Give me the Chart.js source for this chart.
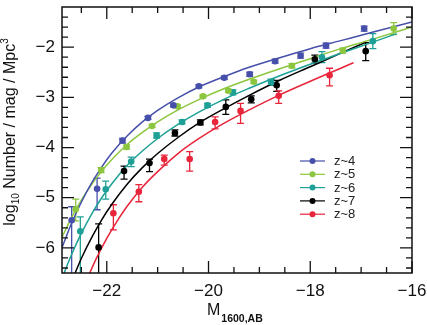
<!DOCTYPE html>
<html lang="en">
<head>
    <meta charset="UTF-8">
    <title>UV luminosity functions</title>
    <script src="https://cdn.jsdelivr.net/npm/chart.js"></script>
    <style>
        body { margin: 0; background: #fff; }
        #wrap { width: 427px; height: 325px; }
    </style>
</head>
<body>
    <div id="wrap"><canvas id="lf" width="427" height="325"></canvas></div>

    <script>
        // axis ranges and ticks
        const xMin = -22.88, xMax = -16;
        const yMin = -6.5, yMax = -1.2;
        const xMajor = [-22, -20, -18, -16];
        const xMinor = [-22.5, -21.5, -21, -20.5, -19.5, -19, -18.5, -17.5, -17, -16.5];
        const yMajor = [-6, -5, -4, -3, -2];
        const yMinor = [-6.4, -6.2, -5.8, -5.6, -5.4, -5.2, -4.8, -4.6, -4.4, -4.2,
                        -3.8, -3.6, -3.4, -3.2, -2.8, -2.6, -2.4, -2.2, -1.8, -1.6, -1.4];

        const labels = ['z~4', 'z~5', 'z~6', 'z~7', 'z~8'];
        const colors = ['#4650aa', '#8cc63f', '#1ea096', '#000000', '#e8253a'];

        // binned points (magnitude, log10 density, error up / down)
        const z4M  = [-22.69, -22.19, -21.69, -21.19, -20.69, -20.19, -19.69, -19.19, -18.69, -18.19, -17.69, -16.94];
        const z4V  = [-5.45, -4.82, -3.86, -3.41, -3.16, -2.78, -2.61, -2.54, -2.28, -2.17, -1.97, -1.63];
        const z4Up = [0.27, 0.21, 0.04, 0.03, 0.03, 0.03, 0.03, 0.04, 0.04, 0.05, 0.05, 0.05];
        const z4Dn = [1.2, 0.42, 0.05, 0.03, 0.03, 0.03, 0.03, 0.04, 0.04, 0.05, 0.05, 0.05];

        const z5M  = [-22.61, -22.11, -21.61, -21.11, -20.61, -20.11, -19.61, -19.11, -18.36, -17.36, -16.36];
        const z5V  = [-5.23, -4.45, -3.99, -3.57, -3.18, -2.98, -2.87, -2.69, -2.37, -2.07, -1.63];
        const z5Up = [0.2, 0.05, 0.04, 0.03, 0.03, 0.03, 0.03, 0.03, 0.04, 0.05, 0.12];
        const z5Dn = [0.23, 0.05, 0.04, 0.03, 0.03, 0.03, 0.03, 0.03, 0.04, 0.05, 0.12];

        const z6M  = [-22.52, -22.02, -21.52, -21.02, -20.52, -20.02, -19.52, -18.77, -17.77, -16.77];
        const z6V  = [-5.67, -4.83, -4.28, -3.76, -3.49, -3.16, -2.90, -2.70, -2.20, -1.88];
        const z6Up = [0.29, 0.16, 0.09, 0.05, 0.04, 0.04, 0.05, 0.06, 0.11, 0.15];
        const z6Dn = [1.0, 0.2, 0.1, 0.05, 0.04, 0.04, 0.05, 0.06, 0.11, 0.15];

        const z7M  = [-22.16, -21.66, -21.16, -20.66, -20.16, -19.66, -19.16, -18.66, -17.91, -16.91];
        const z7V  = [-5.99, -4.47, -4.31, -3.71, -3.50, -3.19, -3.04, -2.76, -2.24, -2.08];
        const z7Up = [0.47, 0.1, 0.08, 0.06, 0.05, 0.14, 0.07, 0.1, 0.08, 0.17];
        const z7Dn = [1.0, 0.16, 0.17, 0.06, 0.05, 0.15, 0.07, 0.12, 0.08, 0.19];

        const z8M  = [-21.87, -21.37, -20.87, -20.37, -19.87, -19.37, -18.62, -17.62];
        const z8V  = [-5.31, -4.88, -4.23, -4.23, -3.49, -3.27, -2.97, -2.56];
        const z8Up = [0.17, 0.14, 0.08, 0.15, 0.1, 0.15, 0.1, 0.14];
        const z8Dn = [0.33, 0.2, 0.12, 0.24, 0.14, 0.25, 0.15, 0.21];

        // fitted curves
        const fitM  = [-22.9, -22.7, -22.5, -22.3, -22.1, -21.9, -21.6, -21.3, -21.0, -20.6, -20.2, -19.7, -19.2, -18.6, -18.0, -17.4, -16.8, -16.0];
        const fit4  = [-6.05, -5.53, -5.09, -4.71, -4.39, -4.11, -3.77, -3.49, -3.26, -3.01, -2.80, -2.59, -2.40, -2.21, -2.03, -1.87, -1.71, -1.50];
        const fit5  = [-5.83, -5.41, -5.05, -4.74, -4.47, -4.24, -3.94, -3.70, -3.49, -3.25, -3.05, -2.83, -2.64, -2.43, -2.23, -2.03, -1.85, -1.60];
        const fit6M = [-22.9, -22.7, -22.5, -22.3, -22.1, -21.9, -21.6, -21.3, -21.0, -20.6, -20.2, -19.7, -19.2, -18.6, -18.0, -17.4, -16.8, -16.3];
        const fit6  = [-6.66, -6.15, -5.71, -5.33, -5.00, -4.72, -4.36, -4.07, -3.82, -3.54, -3.30, -3.04, -2.82, -2.57, -2.34, -2.12, -1.91, -1.73];
        const fit7M = [-22.7, -22.5, -22.3, -22.1, -21.9, -21.6, -21.3, -21.0, -20.6, -20.2, -19.7, -19.2, -18.6, -18.0, -17.4, -16.9];
        const fit7  = [-6.69, -6.21, -5.80, -5.44, -5.13, -4.73, -4.40, -4.12, -3.80, -3.52, -3.23, -2.96, -2.66, -2.39, -2.12, -1.90];
        const fit8M = [-22.4, -22.2, -22.0, -21.8, -21.6, -21.3, -21.0, -20.6, -20.2, -19.7, -19.2, -18.6, -18.0, -17.4, -17.15];
        const fit8  = [-6.65, -6.20, -5.81, -5.47, -5.17, -4.79, -4.48, -4.12, -3.83, -3.52, -3.25, -2.95, -2.68, -2.42, -2.31];

        const series = [
            { m: z4M, v: z4V, up: z4Up, dn: z4Dn, fm: fitM,  fv: fit4 },
            { m: z5M, v: z5V, up: z5Up, dn: z5Dn, fm: fitM,  fv: fit5 },
            { m: z6M, v: z6V, up: z6Up, dn: z6Dn, fm: fit6M, fv: fit6 },
            { m: z7M, v: z7V, up: z7Up, dn: z7Dn, fm: fit7M, fv: fit7 },
            { m: z8M, v: z8V, up: z8Up, dn: z8Dn, fm: fit8M, fv: fit8 }
        ];

        const pts = (xs, ys) => xs.map((x, i) => ({ x: x, y: ys[i] }));

        const datasets = [];
        series.forEach((s, i) => {
            datasets.push({
                label: labels[i],
                data: pts(s.m, s.v),
                showLine: false,
                pointRadius: 3.3,
                pointBackgroundColor: colors[i],
                pointBorderColor: colors[i],
                pointBorderWidth: 0,
                order: 0
            });
            datasets.push({
                label: labels[i] + ' fit',
                data: pts(s.fm, s.fv),
                showLine: true,
                borderColor: colors[i],
                borderWidth: 1.5,
                pointRadius: 0,
                cubicInterpolationMode: 'monotone',
                order: 1
            });
        });

        const tickFont = { family: 'Liberation Sans', size: 17 };

        const decor = {
            id: 'decor',
            beforeDraw(chart) {
                const ctx = chart.ctx;
                ctx.save();
                ctx.fillStyle = '#fff';
                ctx.fillRect(0, 0, chart.width, chart.height);
                ctx.restore();
            },
            beforeDatasetsDraw(chart) {
                // error bars
                const { ctx, chartArea: a, scales: { x, y } } = chart;
                ctx.save();
                ctx.beginPath();
                ctx.rect(a.left, a.top, a.right - a.left, a.bottom - a.top);
                ctx.clip();
                ctx.lineWidth = 1.3;
                series.forEach((s, i) => {
                    ctx.strokeStyle = colors[i];
                    s.m.forEach((m, j) => {
                        const px = x.getPixelForValue(m);
                        const hi = y.getPixelForValue(s.v[j] + s.up[j]);
                        const lo = y.getPixelForValue(s.v[j] - s.dn[j]);
                        ctx.beginPath();
                        ctx.moveTo(px, hi); ctx.lineTo(px, lo);
                        ctx.moveTo(px - 3.5, hi); ctx.lineTo(px + 3.5, hi);
                        ctx.moveTo(px - 3.5, lo); ctx.lineTo(px + 3.5, lo);
                        ctx.stroke();
                    });
                });
                ctx.restore();
            },
            afterDraw(chart) {
                const { ctx, chartArea: a, scales: { x, y } } = chart;
                ctx.save();
                ctx.strokeStyle = '#111';
                ctx.lineWidth = 1.5;
                ctx.strokeRect(a.left, a.top, a.right - a.left, a.bottom - a.top);

                // inward ticks on all four sides
                ctx.lineWidth = 1.3;
                ctx.beginPath();
                const xt = (vals, len) => vals.forEach(v => {
                    const px = x.getPixelForValue(v);
                    ctx.moveTo(px, a.bottom); ctx.lineTo(px, a.bottom - len);
                    ctx.moveTo(px, a.top); ctx.lineTo(px, a.top + len);
                });
                const yt = (vals, len) => vals.forEach(v => {
                    const py = y.getPixelForValue(v);
                    ctx.moveTo(a.left, py); ctx.lineTo(a.left + len, py);
                    ctx.moveTo(a.right, py); ctx.lineTo(a.right - len, py);
                });
                xt(xMajor, 12); xt(xMinor, 6);
                yt(yMajor, 12); yt(yMinor, 6);
                ctx.stroke();

                // legend
                ctx.font = '13px "Liberation Sans"';
                ctx.textBaseline = 'middle';
                labels.forEach((lab, i) => {
                    const ly = 161 + i * 13.3;
                    ctx.strokeStyle = colors[i];
                    ctx.fillStyle = colors[i];
                    ctx.lineWidth = 1.2;
                    ctx.beginPath();
                    ctx.moveTo(300, ly); ctx.lineTo(325, ly);
                    ctx.stroke();
                    ctx.beginPath();
                    ctx.arc(312.5, ly, 3, 0, Math.PI * 2);
                    ctx.fill();
                    ctx.fillStyle = '#222';
                    ctx.fillText(lab, 334, ly + 0.5);
                });

                // x title: M subscript 1600,AB
                ctx.fillStyle = '#111';
                ctx.textBaseline = 'alphabetic';
                ctx.font = '16px "Liberation Sans"';
                ctx.fillText('M', 207, 315);
                const mw = ctx.measureText('M').width;
                ctx.font = 'bold 10.5px "Liberation Sans"';
                ctx.fillText('1600,AB', 207 + mw + 1, 321.5);

                // y title, rotated
                ctx.translate(15, 132);
                ctx.rotate(-Math.PI / 2);
                const big = '16px "Liberation Sans"', small = '10px "Liberation Sans"';
                const parts = [
                    { t: 'log', f: big, dy: 0 },
                    { t: '10', f: small, dy: 4 },
                    { t: ' Number / mag / Mpc', f: big, dy: 0 },
                    { t: '3', f: small, dy: -7 }
                ];
                let total = 0;
                parts.forEach(p => { ctx.font = p.f; p.w = ctx.measureText(p.t).width; total += p.w; });
                let cx = -total / 2;
                parts.forEach(p => {
                    ctx.font = p.f;
                    ctx.fillText(p.t, cx, p.dy);
                    cx += p.w;
                });
                ctx.restore();
            }
        };

        new Chart(document.getElementById('lf'), {
            type: 'scatter',
            data: { datasets: datasets },
            options: {
                responsive: false,
                animation: false,
                layout: { padding: { left: 0, right: 15, top: 7, bottom: 0 } },
                plugins: { legend: { display: false }, tooltip: { enabled: false } },
                scales: {
                    x: {
                        type: 'linear',
                        min: xMin,
                        max: xMax,
                        grid: { display: false, drawTicks: false },
                        border: { display: false },
                        afterBuildTicks: s => { s.ticks = xMajor.map(v => ({ value: v })); },
                        afterFit: s => { s.height = 52; s.paddingLeft = 0; s.paddingRight = 0; },
                        ticks: {
                            padding: 8,
                            maxRotation: 0,
                            autoSkip: false,
                            color: '#111',
                            font: tickFont,
                            callback: v => '\u2212' + Math.abs(v)
                        }
                    },
                    y: {
                        type: 'linear',
                        min: yMin,
                        max: yMax,
                        grid: { display: false, drawTicks: false },
                        border: { display: false },
                        afterBuildTicks: s => { s.ticks = yMajor.map(v => ({ value: v })); },
                        afterFit: s => { s.width = 62; s.paddingTop = 0; s.paddingBottom = 0; },
                        ticks: {
                            padding: 7,
                            color: '#111',
                            font: tickFont,
                            callback: v => '\u2212' + Math.abs(v)
                        }
                    }
                }
            },
            plugins: [decor]
        });
    </script>
</body>
</html>
